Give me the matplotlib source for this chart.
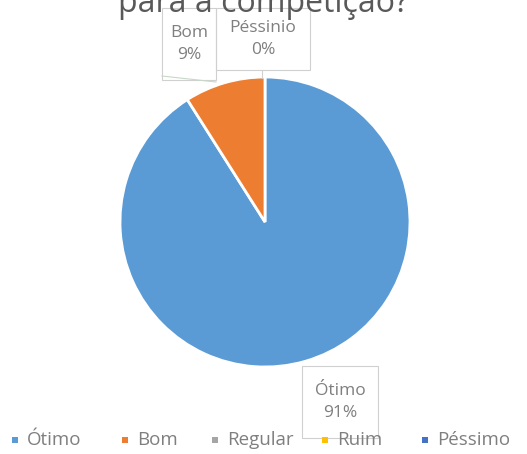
import matplotlib.pyplot as plt
from matplotlib.patches import Rectangle
from matplotlib.lines import Line2D

# === Data ===
categories = ['Ótimo', 'Bom', 'Regular', 'Ruim', 'Péssimo']
values = [91, 9, 0, 0, 0]
colors = ['#5B9BD5', '#ED7D31', '#A5A5A5', '#FFC000', '#4472C4']
title = 'para a competição?'

W, H = 527, 454
fig = plt.figure(figsize=(W / 100, H / 100), dpi=100)
fig.patch.set_facecolor('white')

def px(x, y):
    return x / W, 1 - y / H

# pie axes: center (265, 222), radius 145 px
cx, cy, r = 265, 222, 145
ax = fig.add_axes([(cx - r) / W, 1 - (cy + r) / H, 2 * r / W, 2 * r / H])
nz = [(v, c) for v, c in zip(values, colors) if v > 0]
ax.pie([v for v, _ in nz], colors=[c for _, c in nz], startangle=90, counterclock=False,
       wedgeprops=dict(edgecolor='white', linewidth=2))
ax.set_aspect('equal')
ax.set_xlim(-1, 1)
ax.set_ylim(-1, 1)

# title (cut at the top of the image, as in the original)
fig.text(*px(263, 12), title, ha='center', va='baseline', fontsize=23, color='#595959',
         family='Open Sans')

# callout boxes
label_color = '#7F7F7F'
boxes = [
    (162, 8, 54, 72, 'Bom\n9%'),
    (216, 8, 94, 62, 'Péssinio\n0%'),
    (302, 366, 76, 72, 'Ótimo\n91%'),
]
for x0, y0, w, h, txt in boxes:
    fig.patches.append(Rectangle(px(x0, y0 + h), w / W, h / H, transform=fig.transFigure,
                                 fill=False, edgecolor='#D0D0D0', linewidth=0.8))
    fig.text(*px(x0 + w / 2, y0 + h / 2), txt, ha='center', va='center', fontsize=12.5,
             color=label_color, linespacing=1.45, family='Open Sans')

# leader lines
fig.lines.append(Line2D([162 / W, 216 / W], [1 - 76 / H, 1 - 82 / H], transform=fig.transFigure,
                        color='#C8D8C8', linewidth=0.8))
fig.lines.append(Line2D([262 / W, 262 / W], [1 - 70 / H, 1 - 78 / H], transform=fig.transFigure,
                        color='#D0D0D0', linewidth=0.8))

# legend
leg_x = [12, 122, 212, 322, 422]
for x, name, c in zip(leg_x, categories, colors):
    fig.patches.append(Rectangle(px(x, 443), 6 / W, 6 / H, transform=fig.transFigure,
                                 facecolor=c, edgecolor='none'))
    fig.text(*px(x + 15, 440), name, ha='left', va='center', fontsize=13.5,
             color=label_color, family='Open Sans')

fig.savefig('out.png', dpi=100)
